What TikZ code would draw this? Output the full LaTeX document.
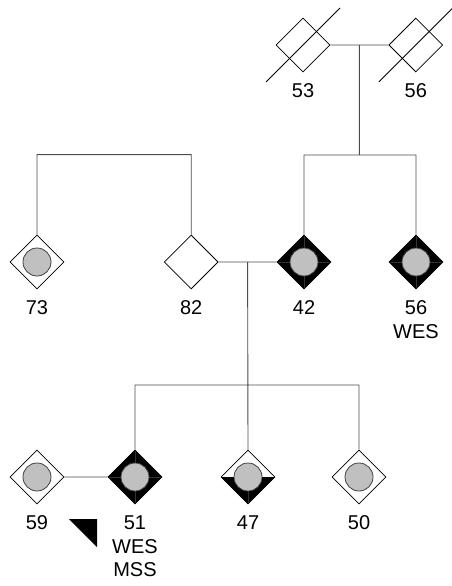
\documentclass[tikz,border=0pt]{standalone}
\usepackage{fontspec}
\setmainfont{Liberation Sans}
\usetikzlibrary{shapes.geometric,calc,positioning}
\definecolor{dotgray}{HTML}{C0C0C0}
\tikzstyle{pedigree}=[
    x=1pt,y=-1pt,line width=0.8pt,
    label distance=11pt,
    every label/.style={
        align=center,inner sep=0pt,
        font=\fontsize{20}{23.5}\selectfont,
    },
    link/.style={draw=black!70,line width=0.9pt},
    person/.style={
        diamond,draw,fill=white,
        minimum size=54pt,inner sep=0pt,
    },
    carrier/.style={person,path picture={\carrierdot}},
    affected/.style={person,fill=black,
        path picture={\quadlines\carrierdot}},
    halfaffected/.style={person,
        path picture={\fill[black] (path picture bounding box.west) -- (path picture bounding box.east)
            -- (path picture bounding box.south) -- cycle;
            \draw[black!80,line width=0.5pt] (path picture bounding box.center) -- (path picture bounding box.south);
            \carrierdot}},
]
\newcommand{\carrierdot}{\filldraw[fill=dotgray,draw=black!75] (path picture bounding box.center) circle (14pt);}
\newcommand{\quadlines}{\draw[black!80,line width=0.5pt]
    (path picture bounding box.north) -- (path picture bounding box.south)
    (path picture bounding box.west) -- (path picture bounding box.east);}

\begin{document}
\begin{tikzpicture}[pedigree]
        \useasboundingbox (0,0) rectangle (452,586);
        % first generation
        \node[person, label={below:53}] (p53) at (303,45) {};
        \node[person, label={below:56}, right=58pt of p53] (p56a) {};
        \draw ($(p53)+(-37,37)$) -- ($(p53)+(37,-37)$);
        \draw ($(p56a)+(-37,37)$) -- ($(p56a)+(37,-37)$);

        % second generation
        \node[affected, label={below:42}] (p42) at (304,262) {};
        \node[affected, label={below:56\\WES}] (p56b) at (416,262) {};
        \node[person, label={below:82}, left=58pt of p42] (p82) {};
        \node[carrier, label={below:73}] (p73) at (37,262) {};

        % third generation
        \node[carrier, label={below:59}] (p59) at (37,477) {};
        \node[affected, label={below:51\\WES\\MSS}] (p51) at (135,477) {};
        \node[halfaffected, label={below:47}] (p47) at (248,477) {};
        \node[carrier, label={below:50}] (p50) at (359,477) {};
        \fill (69,519) -- (97,519) -- (97,547) -- cycle;

        \coordinate (m1) at ($(p53.east)!0.5!(p56a.west)$);
        \coordinate (m2) at ($(p82.east)!0.5!(p42.west)$);
        \path[link]
            (p53.east) -- (p56a.west)
            (m1) -- ++(0,110)
            (p42.north) |- ($(m1)+(0,110)$) -| (p56b.north)
            (p73.north) -- ++(0,-80) -| (p82.north)
            (p82.east) -- (p42.west)
            (m2) -- (p47.north)
            (p51.north) |- ($(m2)+(0,123)$) -| (p50.north)
            (p59.east) -- (p51.west)
        ;
    \end{tikzpicture}
\end{document}
